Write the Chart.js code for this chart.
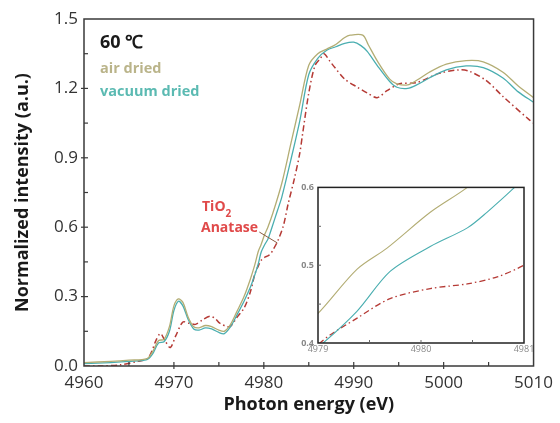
<!DOCTYPE html>
<html><head><meta charset="utf-8">
<script src="https://cdn.jsdelivr.net/npm/chart.js@4/dist/chart.umd.min.js"></script>
<style>
html,body{margin:0;padding:0;background:#fff;}
#wrap{position:relative;width:560px;height:423px;}
#main{position:absolute;left:0;top:0;}
#inset{position:absolute;left:290px;top:178px;}
</style></head>
<body>
<div id="wrap">
<canvas id="main" width="560" height="423"></canvas>
<canvas id="inset" width="250" height="180"></canvas>
</div>
<script>
// ---- data (photon energy in eV, normalized intensity) ----
const energyAir = [4960,4963,4965,4967,4967.6,4968.3,4968.9,4969.5,4970,4970.5,4971,4971.6,4972.2,4972.8,4973.5,4974.2,4975,4975.6,4976.3,4977,4977.8,4978.5,4979,4979.38,4979.67,4980.09,4980.45,4981,4982,4983,4984,4985,4986,4987,4988,4989,4989.6,4991,4991.6,4992.6,4994,4994.8,4996,4997,4998.4,5000.3,5002.5,5004.4,5006.6,5008.3,5010];
const intensityAir = [0.015,0.02,0.025,0.032,0.06,0.11,0.115,0.17,0.26,0.29,0.275,0.21,0.17,0.165,0.175,0.17,0.155,0.15,0.18,0.235,0.30,0.375,0.438,0.495,0.522,0.568,0.60,0.66,0.79,0.96,1.13,1.30,1.35,1.37,1.39,1.42,1.43,1.43,1.39,1.32,1.24,1.22,1.215,1.235,1.27,1.305,1.32,1.315,1.27,1.21,1.16];

const energyVacuum = [4960,4963,4965,4967,4967.6,4968.3,4968.9,4969.5,4970,4970.5,4971,4971.6,4972.2,4972.8,4973.5,4974.2,4975,4975.6,4976.3,4977,4977.8,4978.5,4979.05,4979.38,4979.7,4980.09,4980.45,4980.64,4980.91,4981.5,4982,4983,4984,4985,4986,4987,4988,4989,4990,4990.8,4991.5,4992.6,4994,4994.8,4996,4997,4998.4,5000.3,5002.5,5004.4,5006.6,5008.3,5010];
const intensityVacuum = [0.01,0.015,0.02,0.028,0.05,0.10,0.105,0.15,0.24,0.28,0.26,0.20,0.16,0.155,0.165,0.16,0.145,0.14,0.17,0.22,0.28,0.34,0.40,0.441,0.492,0.524,0.548,0.568,0.60,0.67,0.73,0.89,1.06,1.26,1.33,1.365,1.38,1.395,1.40,1.385,1.36,1.30,1.23,1.205,1.20,1.215,1.245,1.28,1.297,1.29,1.245,1.185,1.14];

const energyAnatase = [4960,4962,4964,4966,4967,4967.5,4968,4968.5,4969,4969.6,4970.2,4971,4971.7,4972.4,4973.2,4974,4974.6,4975.1,4976.2,4977,4977.8,4978.5,4979.02,4979.38,4979.7,4980.09,4980.45,4980.74,4981,4981.6,4982.2,4982.7,4983.4,4984,4984.3,4985,4985.7,4986.3,4986.7,4987.3,4987.9,4989,4990.4,4991.5,4992.6,4993.7,4995.1,4997,4999.5,5001.7,5002.8,5004.7,5006.6,5009.5,5010];
const intensityAnatase = [0.0,0.0,0.005,0.02,0.03,0.06,0.11,0.14,0.11,0.08,0.13,0.19,0.185,0.18,0.20,0.215,0.205,0.185,0.17,0.21,0.25,0.32,0.40,0.432,0.457,0.47,0.476,0.485,0.50,0.545,0.61,0.70,0.81,0.92,1.0,1.18,1.30,1.33,1.35,1.32,1.29,1.24,1.205,1.18,1.16,1.19,1.22,1.225,1.265,1.28,1.275,1.235,1.165,1.065,1.05];

const seriesNames = ['air dried','vacuum dried','TiO2 Anatase'];
const xTicksMain = [4960,4970,4980,4990,5000,5010];
const yTicksMain = [0.0,0.3,0.6,0.9,1.2,1.5];
const xTicksInset = [4979,4980,4981];
const yTicksInset = [0.4,0.5,0.6];

const colAir = '#b3ad74', colVac = '#4aaeb0', colAna = '#b53a35';

function pts(e, v){ return e.map((x,i)=>({x:x, y:v[i]})); }
function makeDatasets(w){
  return [
    {label:seriesNames[0], data:pts(energyAir,intensityAir), borderColor:colAir, borderWidth:w, pointRadius:0, tension:0.3, fill:false},
    {label:seriesNames[1], data:pts(energyVacuum,intensityVacuum), borderColor:colVac, borderWidth:w, pointRadius:0, tension:0.3, fill:false},
    {label:seriesNames[2], data:pts(energyAnatase,intensityAnatase), borderColor:colAna, borderWidth:w+0.2, borderDash:[6,3,1.5,3], pointRadius:0, tension:0.3, fill:false}
  ];
}

const frameMain = {
  id:'frameMain',
  afterDatasetsDraw(chart){
    const c = chart.ctx, a = chart.chartArea, xs = chart.scales.x, ys = chart.scales.y;
    c.save();
    c.strokeStyle = '#3a3a3a'; c.lineWidth = 1.5;
    c.strokeRect(a.left, a.top, a.right-a.left, a.bottom-a.top);
    c.lineWidth = 1.2;
    for (let v = 4965; v < 5010; v += 5){
      const px = xs.getPixelForValue(v);
      const major = (v % 10 === 0);
      c.beginPath(); c.moveTo(px, a.bottom + (major?3:0)); c.lineTo(px, a.bottom - 4); c.stroke();
    }
    for (let k = 1; k < 10; k++){
      const py = ys.getPixelForValue(k*0.15);
      const major = (k % 2 === 0);
      c.beginPath(); c.moveTo(a.left - (major?3:0), py); c.lineTo(a.left + 4, py); c.stroke();
    }
    // annotations
    c.textBaseline = 'alphabetic'; c.textAlign = 'left';
    c.fillStyle = '#1a1a1a'; c.font = 'bold 18px "Open Sans"';
    c.fillText('60 \u2103', 100, 48);
    c.font = 'bold 14.5px "Open Sans"';
    c.fillStyle = '#bab48a'; c.fillText('air dried', 100, 73);
    c.fillStyle = '#5bbab2'; c.fillText('vacuum dried', 100, 96);
    c.fillStyle = '#e04a4a'; c.font = 'bold 14px "Open Sans"';
    c.fillText('TiO', 202, 211);
    const w = c.measureText('TiO').width;
    c.font = 'bold 10px "Open Sans"'; c.fillText('2', 202 + w, 217);
    c.font = 'bold 14px "Open Sans"'; c.fillText('Anatase', 201, 232);
    // pointer line
    c.strokeStyle = '#8a5a40'; c.lineWidth = 1;
    c.beginPath();
    c.moveTo(xs.getPixelForValue(4979.5), ys.getPixelForValue(0.579));
    c.lineTo(xs.getPixelForValue(4981.5), ys.getPixelForValue(0.532));
    c.stroke();
    c.restore();
  }
};

new Chart(document.getElementById('main'), {
  type:'line',
  data:{datasets:makeDatasets(1.3)},
  options:{
    responsive:false, animation:false, devicePixelRatio:1,
    layout:{padding:{left:0,top:19,right:22,bottom:0}},
    plugins:{legend:{display:false}, tooltip:{enabled:false}},
    scales:{
      x:{type:'linear', min:4960, max:5010,
        afterBuildTicks(s){ s.ticks = xTicksMain.map(v=>({value:v})); },
        afterFit(s){ s.height = 57; },
        grid:{display:false, drawTicks:false}, border:{display:false},
        ticks:{color:'#333', font:{family:'Open Sans', size:17}, padding:7, maxRotation:0, callback:v=>String(v)},
        title:{display:true, text:'Photon energy (eV)', color:'#1a1a1a', font:{family:'Open Sans', size:18, weight:'bold'}, padding:{top:0,bottom:7}}
      },
      y:{type:'linear', min:0, max:1.5,
        afterBuildTicks(s){ s.ticks = yTicksMain.map(v=>({value:v})); },
        afterFit(s){ s.width = 84; },
        grid:{display:false, drawTicks:false}, border:{display:false},
        ticks:{color:'#333', font:{family:'Open Sans', size:17}, padding:6, callback:v=>v.toFixed(1)},
        title:{display:true, text:'Normalized intensity (a.u.)', color:'#1a1a1a', font:{family:'Open Sans', size:18, weight:'bold'}, padding:{top:12,bottom:0}}
      }
    }
  },
  plugins:[frameMain]
});

const frameInset = {
  id:'frameInset',
  beforeDraw(chart){
    const c = chart.ctx, a = chart.chartArea;
    c.save(); c.fillStyle = '#fff'; c.fillRect(a.left, a.top, a.right-a.left, a.bottom-a.top); c.restore();
  },
  afterDatasetsDraw(chart){
    const c = chart.ctx, a = chart.chartArea, xs = chart.scales.x, ys = chart.scales.y;
    c.save();
    c.strokeStyle = '#222'; c.lineWidth = 1.5;
    c.strokeRect(a.left, a.top, a.right-a.left, a.bottom-a.top);
    c.lineWidth = 1; c.strokeStyle = '#666';
    [4979.5,4980,4980.5].forEach(v=>{
      const px = xs.getPixelForValue(v);
      c.beginPath(); c.moveTo(px, a.bottom); c.lineTo(px, a.bottom-3); c.stroke();
    });
    [0.45,0.5,0.55].forEach(v=>{
      const py = ys.getPixelForValue(v);
      c.beginPath(); c.moveTo(a.left, py); c.lineTo(a.left+3, py); c.stroke();
    });
    c.restore();
  }
};

new Chart(document.getElementById('inset'), {
  type:'line',
  data:{datasets:makeDatasets(1.1)},
  options:{
    responsive:false, animation:false, devicePixelRatio:1,
    layout:{padding:{left:0,top:7,right:16,bottom:0}},
    plugins:{legend:{display:false}, tooltip:{enabled:false}},
    scales:{
      x:{type:'linear', min:4979, max:4981,
        afterBuildTicks(s){ s.ticks = xTicksInset.map(v=>({value:v})); },
        afterFit(s){ s.height = 15; },
        grid:{display:false, drawTicks:false}, border:{display:false},
        ticks:{color:'#888', font:{family:'Open Sans', size:9}, padding:1, maxRotation:0, callback:v=>String(v)}
      },
      y:{type:'linear', min:0.4, max:0.6,
        afterBuildTicks(s){ s.ticks = yTicksInset.map(v=>({value:v})); },
        afterFit(s){ s.width = 28; },
        grid:{display:false, drawTicks:false}, border:{display:false},
        ticks:{color:'#888', font:{family:'Open Sans', size:9, weight:'bold'}, padding:4, callback:v=>v.toFixed(1)}
      }
    }
  },
  plugins:[frameInset]
});
</script>
</body></html>
